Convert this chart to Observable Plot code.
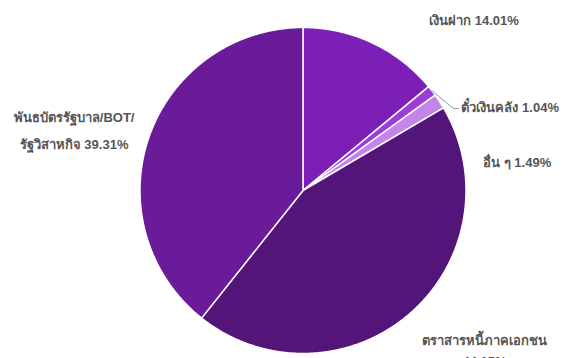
<!DOCTYPE html>
<html>
<head>
<meta charset="utf-8">
<script src="https://cdn.jsdelivr.net/npm/d3@7"></script>
<script src="https://cdn.jsdelivr.net/npm/@observablehq/plot@0.6"></script>
<style>
  html, body { margin: 0; padding: 0; background: #ffffff; }
  #chart { width: 564px; height: 358px; overflow: hidden; }
</style>
</head>
<body>
<div id="chart"></div>
<script>
// ---- data ----
const categories = ["เงินฝาก", "ตั๋วเงินคลัง", "อื่น ๆ", "ตราสารหนี้ภาคเอกชน", "พันธบัตรรัฐบาล/BOT/รัฐวิสาหกิจ"];
const shares = [14.01, 1.04, 1.49, 44.15, 39.31];
const labelTexts = ["เงินฝาก 14.01%", "ตั๋วเงินคลัง 1.04%", "อื่น ๆ 1.49%", "ตราสารหนี้ภาคเอกชน\n44.15%", "พันธบัตรรัฐบาล/BOT/\nรัฐวิสาหกิจ 39.31%"];
const sliceColors = ["#7b1fb6", "#9c3dd7", "#c285ea", "#53157a", "#6a1b9a"];

// ---- layout (pixels) ----
const R = 163; // pixels per unit radius
const labelNudge = [[101.5, -26.7], [29.5, 17.1], [77.7, 56.6], [74.6, 35.2], [-75, -10]];
const labelLineHeight = [2.1, 2.1, 2.1, 1.6, 2.1];
const connectorIndex = 1;

const rows = categories.map((name, i) => ({name, share: shares[i], label: labelTexts[i], i}));
const arcs = d3.pie().sort(null).value(d => d.share)(rows);

// slice polygons in unit coordinates (angle 0 = top, clockwise)
const slicePts = [];
for (const a of arcs) {
  const n = Math.max(2, Math.ceil((a.endAngle - a.startAngle) / (Math.PI / 360)));
  slicePts.push({name: a.data.name, x: 0, y: 0});
  for (let k = 0; k <= n; k++) {
    const t = a.startAngle + (a.endAngle - a.startAngle) * k / n;
    slicePts.push({name: a.data.name, x: Math.sin(t), y: Math.cos(t)});
  }
  slicePts.push({name: a.data.name, x: 0, y: 0});
}

const labels = arcs.map((a, i) => {
  const m = (a.startAngle + a.endAngle) / 2;
  const ex = Math.sin(m), ey = Math.cos(m);
  return {
    name: a.data.name,
    text: a.data.label,
    ex, ey,
    x: ex + labelNudge[i][0] / R,
    y: ey - labelNudge[i][1] / R,
    lh: labelLineHeight[i],
    connector: i === connectorIndex
  };
});

const conn = labels.filter(d => d.connector);
const connPts = [];
for (const d of conn) {
  connPts.push({name: d.name, x: d.ex, y: d.ey});
  connPts.push({name: d.name, x: d.ex + 21.5 / R, y: d.ey - 17.6 / R});
  connPts.push({name: d.name, x: d.ex + 26.5 / R, y: d.ey - 17.6 / R});
}

const textStyle = {x: "x", y: "y", text: "text", fill: "#555555", fontSize: 13, fontWeight: "bold"};
const lineHeights = Array.from(new Set(labelLineHeight));

const chart = Plot.plot({
  width: 564,
  height: 358,
  marginLeft: 139.5,
  marginRight: 98.5,
  marginTop: 27,
  marginBottom: 5,
  x: {domain: [-1, 1], axis: null},
  y: {domain: [-1, 1], axis: null},
  color: {domain: categories, range: sliceColors},
  style: {fontFamily: "Arial, 'Liberation Sans', 'Noto Sans', sans-serif", background: "#ffffff", overflow: "visible"},
  marks: [
    Plot.line(slicePts, {x: "x", y: "y", z: "name", fill: "name", stroke: "#ffffff", strokeWidth: 1.5, curve: "linear-closed"}),
    Plot.line(connPts, {x: "x", y: "y", z: "name", stroke: "#999999", strokeWidth: 1, curve: "linear"}),
    ...lineHeights.map(lh => Plot.text(labels.filter(d => !d.connector && d.lh === lh), {...textStyle, lineHeight: lh, textAnchor: "middle"})),
    Plot.text(conn, {...textStyle, textAnchor: "start"})
  ]
});
document.getElementById("chart").appendChild(chart);
</script>
</body>
</html>
